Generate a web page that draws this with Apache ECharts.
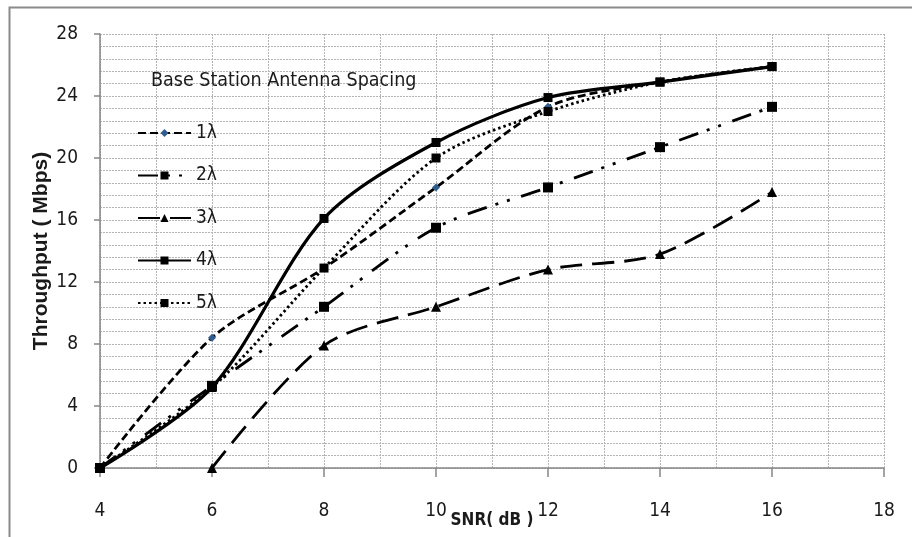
<!DOCTYPE html>
<html>
<head>
<meta charset="utf-8">
<script src="https://cdn.jsdelivr.net/npm/echarts@6/dist/echarts.min.js"></script>
<style>
html,body{margin:0;padding:0;background:#fff;}
#chart{width:912px;height:537px;}
</style>
</head>
<body>
<div id="chart"></div>
<script>
// SNR (dB) values on the x axis
const snr = [4, 6, 8, 10, 12, 14, 16];
// Throughput (Mbps) for each base station antenna spacing
const s1 = [0, 8.4, 12.9, 18.1, 23.3, 24.9, 25.9];
const s2 = [0, 5.3, 10.4, 15.5, 18.1, 20.7, 23.3];
const s3 = [null, 0, 7.9, 10.4, 12.8, 13.8, 17.8];
const s4 = [0, 5.2, 16.1, 21.0, 23.9, 24.9, 25.9];
const s5 = [0, 5.2, 12.9, 20.0, 23.0, 24.9, 25.9];
const seriesNames = ['1λ', '2λ', '3λ', '4λ', '5λ'];

const narrow = "'DejaVu Sans Condensed', 'Liberation Sans Narrow', 'Liberation Sans', sans-serif";
const pair = arr => snr.map((x, i) => [x, arr[i]]);

function mk(name, arr, dash, symbol, size, symColor, width) {
  return {
    name: name,
    type: 'line',
    data: pair(arr),
    smooth: 0.3,
    symbol: symbol,
    symbolSize: size,
    showSymbol: true,
    connectNulls: false,
    lineStyle: { color: '#000', width: width, type: dash, cap: 'butt' },
    itemStyle: { color: symColor, borderWidth: 0 },
    emphasis: { disabled: true },
    z: 3
  };
}

const chart = echarts.init(document.getElementById('chart'), null, { renderer: 'canvas' });
chart.setOption({
  animation: false,
  backgroundColor: '#fff',
  grid: { left: 100, top: 34, right: 28, bottom: 69, containLabel: false, outerBoundsMode: 'none' },
  title: {
    text: 'Base Station Antenna Spacing',
    left: 151, top: 71, padding: 0,
    textStyle: { fontFamily: narrow, fontSize: 19.5, fontWeight: 'normal', color: '#1a1a1a' }
  },
  legend: {
    orient: 'vertical',
    left: 137, top: 122, padding: 0,
    itemWidth: 53, itemHeight: 10,
    itemGap: 20.5,
    data: seriesNames,
    textStyle: { fontFamily: narrow, fontSize: 19, color: '#1a1a1a', lineHeight: 22 },
    selectedMode: false
  },
  xAxis: {
    type: 'value',
    min: 4, max: 18, interval: 2,
    name: 'SNR( dB )',
    nameLocation: 'middle',
    nameGap: 44,
    nameMoveOverlap: false,
    nameTextStyle: { fontFamily: narrow, fontSize: 17, fontWeight: 'bold', color: '#1a1a1a' },
    axisLine: { show: true, onZero: false, lineStyle: { color: '#868686', width: 1.5 } },
    axisTick: { show: true, length: 9, lineStyle: { color: '#868686', width: 1.5 } },
    axisLabel: { margin: 34, fontFamily: narrow, fontSize: 19, color: '#1a1a1a' },
    splitLine: { show: true, lineStyle: { color: '#b4b4b4', width: 1, type: [2, 1] } },
    minorTick: { show: false, splitNumber: 2 },
    minorSplitLine: { show: true, lineStyle: { color: '#b4b4b4', width: 1, type: [2, 1] } }
  },
  yAxis: {
    type: 'value',
    min: 0, max: 28, interval: 4,
    name: 'Throughput ( Mbps)',
    nameLocation: 'middle',
    nameGap: 48,
    nameMoveOverlap: false,
    nameRotate: 90,
    nameTextStyle: { fontFamily: "'Liberation Sans', Arial, sans-serif", fontSize: 21, fontWeight: 'bold', color: '#1a1a1a' },
    axisLine: { show: true, lineStyle: { color: '#868686', width: 1.5 } },
    axisTick: { show: true, length: 6, lineStyle: { color: '#868686', width: 1.5 } },
    axisLabel: { margin: 22, fontFamily: narrow, fontSize: 19, color: '#1a1a1a' },
    splitLine: { show: true, lineStyle: { color: '#b4b4b4', width: 1, type: [2, 1] } },
    minorTick: { show: false, splitNumber: 5 },
    minorSplitLine: { show: true, lineStyle: { color: '#b4b4b4', width: 1, type: [2, 1] } }
  },
  graphic: [{
    type: 'rect',
    shape: { x: 9.5, y: 7.5, width: 950, height: 600 },
    style: { fill: 'none', stroke: '#8a8a8a', lineWidth: 2 },
    silent: true, z: -1
  }],
  series: [
    mk('1λ', s1, [8, 4], 'diamond', 8, '#2f5d8e', 2.8),
    mk('2λ', s2, [20, 9, 3, 9, 3, 12], 'rect', 10, '#000', 2.8),
    mk('3λ', s3, [22, 10], 'triangle', 10, '#000', 2.8),
    mk('4λ', s4, 'solid', 'rect', 9, '#000', 3.2),
    mk('5λ', s5, [2.5, 3], 'rect', 9, '#000', 2.8)
  ]
});
</script>
</body>
</html>
